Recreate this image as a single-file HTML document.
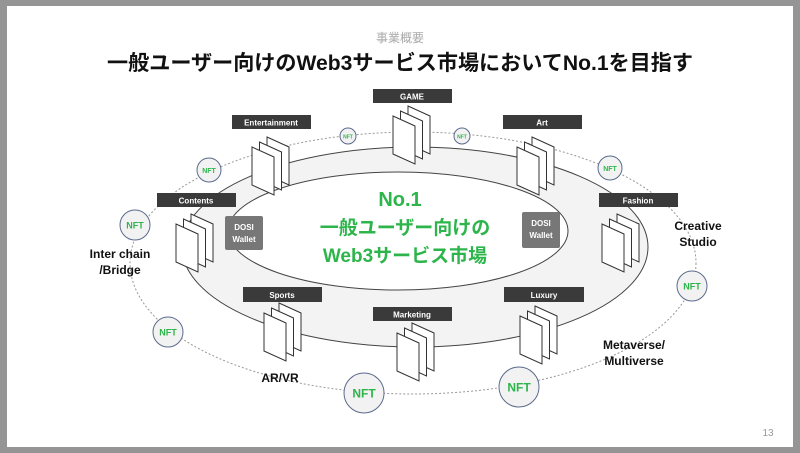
<!DOCTYPE html>
<html><head><meta charset="utf-8"><style>
html,body{margin:0;padding:0;background:#959595;}
svg{display:block;}
text{font-family:"Liberation Sans","Noto Sans CJK JP",sans-serif;}
</style></head><body>
<svg width="800" height="453" viewBox="0 0 800 453" xmlns="http://www.w3.org/2000/svg">
<defs>
<g id="stk">
<polygon points="15,-10 37,0 37,38 15,28" fill="#fff" stroke="#333" stroke-width="1"/>
<polygon points="7.5,-5 29.5,5 29.5,43 7.5,33" fill="#fff" stroke="#333" stroke-width="1"/>
<polygon points="0,0 22,10 22,48 0,38" fill="#fff" stroke="#333" stroke-width="1"/>
</g>
</defs>
<rect x="0" y="0" width="800" height="453" fill="#959595"/>
<rect x="7" y="6" width="786" height="441" fill="#fff"/>
<text x="400" y="42" font-size="12" fill="#aaa" text-anchor="middle">事業概要</text>
<text x="400" y="70" font-size="21" font-weight="bold" fill="#111" text-anchor="middle" textLength="586" lengthAdjust="spacingAndGlyphs">一般ユーザー向けのWeb3サービス市場においてNo.1を目指す</text>

<ellipse cx="413" cy="263" rx="283" ry="131" fill="none" stroke="#999" stroke-width="1" stroke-dasharray="2,2"/>
<ellipse cx="415" cy="247" rx="233" ry="100" fill="#f3f3f3" stroke="#444" stroke-width="1"/>
<ellipse cx="398" cy="231" rx="170" ry="59" fill="#fff" stroke="#444" stroke-width="1"/>

<g font-size="8" font-weight="bold" fill="#fff" text-anchor="middle">
<rect x="373" y="89" width="79" height="14" fill="#3a3a3a"/><text x="412" y="99.5">GAME</text>
<rect x="232" y="115" width="79" height="14" fill="#3a3a3a"/><text x="271" y="125.5">Entertainment</text>
<rect x="503" y="115" width="79" height="14" fill="#3a3a3a"/><text x="542" y="125.5">Art</text>
<rect x="157" y="193" width="79" height="14" fill="#3a3a3a"/><text x="196" y="203.5">Contents</text>
<rect x="599" y="193" width="79" height="14" fill="#3a3a3a"/><text x="638" y="203.5">Fashion</text>
<rect x="243" y="287" width="79" height="15" fill="#3a3a3a"/><text x="282" y="298">Sports</text>
<rect x="504" y="287" width="80" height="15" fill="#3a3a3a"/><text x="544" y="298">Luxury</text>
<rect x="373" y="307" width="79" height="14" fill="#3a3a3a"/><text x="412" y="317.5">Marketing</text>
<rect x="225" y="216" width="38" height="34" rx="2" fill="#777"/><text x="244" y="230">DOSI</text><text x="244" y="242">Wallet</text>
<rect x="522" y="212" width="38" height="36" rx="2" fill="#777"/><text x="541" y="226">DOSI</text><text x="541" y="238">Wallet</text>
</g>

<use href="#stk" x="393" y="116"/>
<use href="#stk" x="252" y="147"/>
<use href="#stk" x="517" y="147"/>
<use href="#stk" x="176" y="224"/>
<use href="#stk" x="602" y="224"/>
<use href="#stk" x="264" y="313"/>
<use href="#stk" x="397" y="333"/>
<use href="#stk" x="520" y="316"/>

<g font-weight="bold" fill="#2db54b" text-anchor="middle">
<text x="400" y="206" font-size="20">No.1</text>
<text x="405" y="234" font-size="19">一般ユーザー向けの</text>
<text x="405" y="262" font-size="19">Web3サービス市場</text>
</g>

<g fill="#f2f2f2" stroke="#5b6b8c" stroke-width="1">
<circle cx="348" cy="136" r="8"/><circle cx="462" cy="136" r="8"/>
<circle cx="209" cy="170" r="12"/><circle cx="610" cy="168" r="12"/>
<circle cx="135" cy="225" r="15"/><circle cx="692" cy="286" r="15"/>
<circle cx="168" cy="332" r="15"/>
<circle cx="364" cy="393" r="20"/><circle cx="519" cy="387" r="20"/>
</g>
<g font-weight="bold" fill="#2db54b" text-anchor="middle">
<text x="348" y="138.5" font-size="5">NFT</text><text x="462" y="138.5" font-size="5">NFT</text>
<text x="209" y="173" font-size="7">NFT</text><text x="610" y="171" font-size="7">NFT</text>
<text x="135" y="228.5" font-size="9">NFT</text><text x="692" y="289.5" font-size="9">NFT</text>
<text x="168" y="335.5" font-size="9">NFT</text>
<text x="364" y="397.5" font-size="12">NFT</text><text x="519" y="391.5" font-size="12">NFT</text>
</g>

<g font-size="12" font-weight="bold" fill="#111" text-anchor="middle">
<text x="120" y="258">Inter chain</text><text x="120" y="274">/Bridge</text>
<text x="698" y="230">Creative</text><text x="698" y="246">Studio</text>
<text x="634" y="349">Metaverse/</text><text x="634" y="365">Multiverse</text>
<text x="280" y="382">AR/VR</text>
</g>
<text x="768" y="436" font-size="10" fill="#999" text-anchor="middle">13</text>
</svg>
</body></html>
